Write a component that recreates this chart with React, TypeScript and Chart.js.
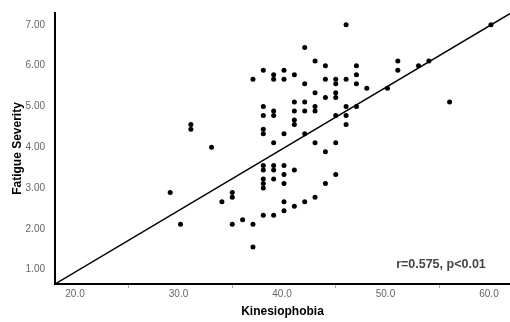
import React, { useEffect, useRef } from 'react';
import { Chart, registerables } from 'chart.js';

Chart.register(...registerables);

// Kinesiophobia (TSK) scores, one per participant
const kinesiophobia = [
  29, 30, 31, 31, 33, 34, 35, 35, 35, 36, 37, 37, 37,
  38, 38, 38, 38, 38, 38, 38, 38, 38, 38, 38,
  39, 39, 39, 39, 39, 39, 39, 39, 39,
  40, 40, 40, 40, 40, 40, 40, 40,
  41, 41, 41, 41, 41, 41, 41,
  42, 42, 42, 42, 42, 42,
  43, 43, 43, 43, 43, 43,
  44, 44, 44, 44, 44,
  45, 45, 45, 45, 45, 45, 45,
  46, 46, 46, 46, 46,
  47, 47, 47, 47,
  48, 50, 51, 51, 53, 54, 56, 60,
];

// Fatigue Severity (FSS mean) scores, same order
const fatigueSeverity = [
  2.889, 2.111, 4.556, 4.444, 4.0, 2.667, 2.889, 2.778, 2.111, 2.222, 5.667, 2.111, 1.556,
  5.889, 5.0, 4.778, 4.444, 4.333, 3.556, 3.444, 3.222, 3.111, 3.0, 2.333,
  5.778, 5.667, 4.889, 4.778, 4.111, 3.556, 3.444, 3.222, 2.333,
  5.889, 5.667, 4.333, 3.556, 3.333, 3.111, 2.667, 2.444,
  5.778, 5.111, 4.889, 4.667, 4.556, 3.444, 2.556,
  6.444, 5.556, 5.111, 4.889, 4.333, 2.667,
  6.111, 5.333, 5.0, 4.889, 4.111, 2.778,
  6.0, 5.667, 5.222, 3.889, 3.111,
  5.667, 5.556, 5.333, 5.222, 4.778, 4.111, 3.333,
  7.0, 5.667, 5.0, 4.778, 4.556,
  6.0, 5.778, 5.556, 5.0,
  5.444, 5.444, 6.111, 5.889, 6.0, 6.111, 5.111, 7.0,
];

// Axis ranges and ticks
const X_MIN = 17.87;
const X_MAX = 61.84;
const Y_MIN = 0.65;
const Y_MAX = 7.29;
const xTicks = [20, 25, 30, 35, 40, 45, 50, 55, 60];
const yTicks = [1, 2, 3, 4, 5, 6, 7];

// Fit line
const fitIntercept = -2.043;
const fitSlope = 0.1507;

const statText = 'r=0.575, p<0.01';
const statAt = { x: 59.5, y: 1.12 };

const FONT = '"Liberation Sans", Arial, sans-serif';

export default function App() {
  const ref = useRef<HTMLCanvasElement | null>(null);

  useEffect(() => {
    if (!ref.current) return;
    const points = kinesiophobia.map((x, i) => ({ x, y: fatigueSeverity[i] }));
    const fitLine = [X_MIN, X_MAX].map((x) => ({ x, y: fitIntercept + fitSlope * x }));

    const statPlugin = {
      id: 'statText',
      afterDraw(chart: any) {
        const { ctx, scales } = chart;
        ctx.save();
        ctx.font = `bold 12.5px ${FONT}`;
        ctx.fillStyle = '#444';
        ctx.textAlign = 'right';
        ctx.textBaseline = 'middle';
        ctx.fillText(statText, scales.x.getPixelForValue(statAt.x), scales.y.getPixelForValue(statAt.y));
        ctx.restore();
      },
    };

    const chart = new Chart(ref.current, {
      type: 'scatter',
      data: {
        datasets: [
          {
            type: 'line',
            data: fitLine,
            borderColor: '#000',
            borderWidth: 1.5,
            pointRadius: 0,
            fill: false,
          } as any,
          {
            data: points,
            backgroundColor: '#000',
            borderWidth: 0,
            pointRadius: 2.5,
          },
        ],
      },
      options: {
        responsive: false,
        animation: false,
        layout: { autoPadding: false, padding: { top: 13, right: 0, left: 0, bottom: 0 } },
        plugins: { legend: { display: false }, tooltip: { enabled: false } },
        scales: {
          x: {
            type: 'linear',
            min: X_MIN,
            max: X_MAX,
            afterBuildTicks: (s: any) => {
              s.ticks = xTicks.map((v) => ({ value: v }));
            },
            afterFit: (s: any) => {
              s.height = 38;
              s.paddingLeft = 0;
              s.paddingRight = 0;
            },
            grid: {
              display: true,
              drawOnChartArea: false,
              drawTicks: true,
              tickLength: 4,
              lineWidth: 1,
              color: (c: any) => (c.tick && c.tick.value % 10 === 5 ? '#aaa' : 'rgba(0,0,0,0)'),
            },
            border: { display: true, color: '#000', width: 2 },
            ticks: {
              autoSkip: false,
              maxRotation: 0,
              padding: 0,
              labelOffset: -2,
              color: '#666',
              font: { family: FONT, size: 10 },
              callback: (v: any) => (Number(v) % 10 === 0 ? Number(v).toFixed(1) : ''),
            },
            title: {
              display: true,
              text: 'Kinesiophobia',
              color: '#000',
              font: { family: FONT, size: 12, weight: 'bold' },
              padding: { top: 0, bottom: 3 },
            },
          },
          y: {
            type: 'linear',
            min: Y_MIN,
            max: Y_MAX,
            afterBuildTicks: (s: any) => {
              s.ticks = yTicks.map((v) => ({ value: v }));
            },
            afterFit: (s: any) => {
              s.width = 55;
              s.paddingTop = 0;
              s.paddingBottom = 0;
            },
            grid: { display: true, drawOnChartArea: false, drawTicks: false },
            border: { display: true, color: '#000', width: 2 },
            ticks: {
              padding: 10,
              color: '#666',
              font: { family: FONT, size: 10 },
              callback: (v: any) => Number(v).toFixed(2),
            },
            title: {
              display: true,
              text: 'Fatigue Severity',
              color: '#000',
              font: { family: FONT, size: 12, weight: 'bold' },
              padding: { top: 10, bottom: 0 },
            },
          },
        },
      },
      plugins: [statPlugin],
    });

    return () => chart.destroy();
  }, []);

  return (
    <div style={{ position: 'fixed', left: 0, top: 0, width: 510, height: 322, background: '#fff' }}>
      <canvas ref={ref} width={510} height={322} style={{ display: 'block' }} />
    </div>
  );
}
